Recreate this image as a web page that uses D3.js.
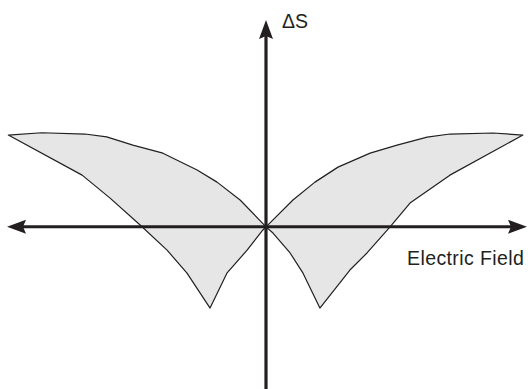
<!DOCTYPE html>
<html>
<head>
<meta charset="utf-8">
<script src="https://cdn.jsdelivr.net/npm/d3@7"></script>
<style>
  html, body { margin: 0; padding: 0; background: #fff; }
  svg { display: block; }
  text { font-family: "Liberation Sans", Arial, Helvetica, sans-serif; fill: #231f20; }
</style>
</head>
<body>
<svg id="chart" width="528" height="389"></svg>
<script>
// Entropy change ΔS versus electric field: two lobes, one for each field polarity.
// Each lobe is bounded by an upper and a lower branch that meet at the origin and at the outer tip.
const negUpper = [[0, 0], [-1.00, 1.04], [-1.89, 1.73], [-2.66, 2.20], [-3.98, 2.85], [-5.14, 3.16],
                  [-6.15, 3.48], [-6.99, 3.59], [-8.66, 3.64], [-9.95, 3.55]];
const negLower = [[-9.95, 3.55], [-7.10, 2.00], [-6.02, 1.11], [-4.86, 0.07], [-3.82, -0.90],
                  [-3.05, -1.79], [-2.16, -3.14], [-1.51, -1.79], [-0.73, -0.90], [-0.12, -0.12], [0, 0]];
const posUpper = [[0, 0], [1.04, 1.04], [1.89, 1.73], [2.78, 2.31], [4.02, 2.85], [5.06, 3.16],
                  [6.22, 3.47], [7.10, 3.59], [8.76, 3.63], [9.92, 3.55]];
const posLower = [[9.92, 3.55], [7.10, 2.00], [5.56, 0.92], [4.79, 0], [3.90, -1.01], [3.24, -1.67],
                  [2.08, -3.14], [1.43, -1.79], [0.93, -1.01], [0.27, -0.24], [0, 0]];

const xLabel = "Electric Field";
const yLabel = "ΔS";

const ink = "#231f20";
const svg = d3.select("#chart");

const x = d3.scaleLinear().domain([-10, 10]).range([7, 525]);
const y = d3.scaleLinear().domain([-6, 8]).range([382, 20]);

const line = d3.line().x(d => x(d[0])).y(d => y(d[1]));

// shaded lobes
[[negUpper, negLower], [posUpper, posLower]].forEach(([up, lo]) => {
  svg.append("path")
    .attr("d", line(up.concat(lo.slice(1))) + "Z")
    .attr("fill", "#e6e6e6")
    .attr("stroke", ink)
    .attr("stroke-width", 1.2)
    .attr("stroke-linejoin", "round");
});

// arrowhead shape, pointing along +x from the tip at (0,0)
function arrowHead(len, half, notch) {
  return `M0,0 L${-len},${-half} L${-len + notch},0 L${-len},${half} Z`;
}

const x0 = x(0), y0 = y(0);
const xLeft = 7, xRight = 527, yTop = 20, yBottom = 389;

// horizontal axis
svg.append("line")
  .attr("x1", xLeft + 10).attr("x2", xRight - 10)
  .attr("y1", y0).attr("y2", y0)
  .attr("stroke", ink).attr("stroke-width", 3);
svg.append("path").attr("d", arrowHead(19, 7, 3))
  .attr("transform", `translate(${xRight},${y0})`).attr("fill", ink);
svg.append("path").attr("d", arrowHead(19, 7, 3))
  .attr("transform", `translate(${xLeft},${y0}) rotate(180)`).attr("fill", ink);

// vertical axis
svg.append("line")
  .attr("x1", x0).attr("x2", x0)
  .attr("y1", yTop + 10).attr("y2", yBottom)
  .attr("stroke", ink).attr("stroke-width", 3.2);
svg.append("path").attr("d", arrowHead(19, 7, 3))
  .attr("transform", `translate(${x0},${yTop}) rotate(-90)`).attr("fill", ink);

// axis labels
svg.append("text")
  .attr("x", 407).attr("y", 265)
  .attr("font-size", 19.5)
  .attr("letter-spacing", 0.4)
  .text(xLabel);

svg.append("text")
  .attr("x", 282).attr("y", 28)
  .attr("font-size", 19.5)
  .text(yLabel);
</script>
</body>
</html>
